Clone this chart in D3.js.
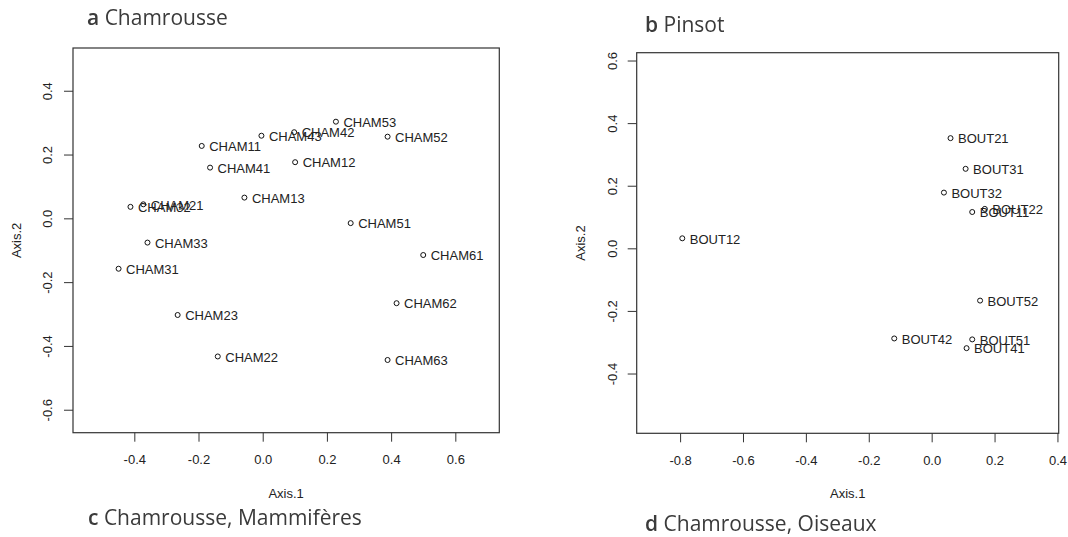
<!DOCTYPE html>
<html>
<head>
<meta charset="utf-8">
<script src="https://cdn.jsdelivr.net/npm/d3@7"></script>
<style>
  html, body { margin: 0; padding: 0; background: #fff; }
  svg { display: block; }
  .tick text { font-family: "Liberation Sans", Arial, sans-serif; font-size: 13px; fill: #222; }
  .tick line { stroke: #333; stroke-width: 1; }
  .lbl { font-family: "Liberation Sans", Arial, sans-serif; font-size: 13px; fill: #222; }
  .title { font-family: "Open Sans", "Noto Sans", sans-serif; font-size: 21px; fill: #3a3a3a; }
</style>
</head>
<body>
<svg id="fig" width="1068" height="537"></svg>
<script>
// Ordination scores, Chamrousse sites
const chamNames = ["CHAM53","CHAM43","CHAM42","CHAM52","CHAM11","CHAM12","CHAM41","CHAM13",
                   "CHAM32","CHAM21","CHAM51","CHAM33","CHAM31","CHAM61","CHAM62","CHAM23",
                   "CHAM22","CHAM63"];
const chamAxis1 = [0.228,-0.004,0.098,0.389,-0.190,0.101,-0.164,-0.057,
                   -0.412,-0.372,0.274,-0.359,-0.449,0.500,0.417,-0.265,
                   -0.140,0.389];
const chamAxis2 = [0.303,0.259,0.270,0.256,0.227,0.176,0.159,0.065,
                   0.036,0.044,-0.015,-0.076,-0.158,-0.115,-0.266,-0.303,
                   -0.433,-0.444];

// Ordination scores, Pinsot sites
const boutNames = ["BOUT21","BOUT31","BOUT32","BOUT11","BOUT22","BOUT12",
                   "BOUT52","BOUT42","BOUT51","BOUT41"];
const boutAxis1 = [0.060,0.108,0.039,0.129,0.169,-0.793,0.154,-0.119,0.129,0.111];
const boutAxis2 = [0.352,0.254,0.178,0.116,0.126,0.032,-0.167,-0.288,-0.291,-0.319];

// Tick values
const chamXTicks = [-0.4,-0.2,0.0,0.2,0.4,0.6];
const chamYTicks = [-0.6,-0.4,-0.2,0.0,0.2,0.4];
const boutXTicks = [-0.8,-0.6,-0.4,-0.2,0.0,0.2,0.4];
const boutYTicks = [-0.4,-0.2,0.0,0.2,0.4,0.6];

// Panel titles
const titles = [
  {letter: "a", text: "Chamrousse", x: 87, y: 25},
  {letter: "b", text: "Pinsot", x: 645, y: 32},
  {letter: "c", text: "Chamrousse, Mammifères", x: 88, y: 525},
  {letter: "d", text: "Chamrousse, Oiseaux", x: 645, y: 531}
];

const svg = d3.select("#fig");
const defs = svg.append("defs");
defs.append("filter").attr("id", "soft")
  .append("feGaussianBlur").attr("stdDeviation", 0.45);

const fmt = d => d.toFixed(1);

function panel(cfg) {
  const x = d3.scaleLinear().domain(cfg.xDomain).range([cfg.left, cfg.right]);
  const y = d3.scaleLinear().domain(cfg.yDomain).range([cfg.bottom, cfg.top]);
  const g = svg.append("g");

  // frame
  g.append("rect")
    .attr("x", cfg.left).attr("y", cfg.top)
    .attr("width", cfg.right - cfg.left).attr("height", cfg.bottom - cfg.top)
    .attr("fill", "none").attr("stroke", "#333").attr("stroke-width", 1.2);

  // x axis
  const ax = g.append("g").attr("transform", `translate(0,${cfg.bottom})`)
    .call(d3.axisBottom(x).tickValues(cfg.xTicks).tickFormat(fmt).tickSize(9).tickPadding(13));
  ax.select(".domain").remove();

  // y axis, labels parallel to the axis
  const ay = g.append("g").attr("transform", `translate(${cfg.left},0)`)
    .call(d3.axisLeft(y).tickValues(cfg.yTicks).tickFormat(fmt).tickSize(9));
  ay.select(".domain").remove();
  ay.selectAll(".tick text")
    .attr("x", null).attr("dy", null)
    .attr("text-anchor", "middle")
    .attr("dominant-baseline", "central")
    .attr("transform", `translate(${cfg.tickLabelX - cfg.left},0) rotate(-90)`);

  // axis titles
  g.append("text").attr("class", "lbl")
    .attr("x", (cfg.left + cfg.right) / 2).attr("y", 493)
    .attr("text-anchor", "middle").attr("dominant-baseline", "central")
    .text("Axis.1");
  g.append("text").attr("class", "lbl")
    .attr("text-anchor", "middle").attr("dominant-baseline", "central")
    .attr("transform", `translate(${cfg.axis2X},${(cfg.top + cfg.bottom) / 2}) rotate(-90)`)
    .text("Axis.2");

  // sites
  const data = cfg.names.map((n, i) => ({name: n, a1: cfg.a1[i], a2: cfg.a2[i]}));
  const pts = g.append("g");
  pts.selectAll("circle").data(data).join("circle")
    .attr("cx", d => x(d.a1)).attr("cy", d => y(d.a2)).attr("r", 2.5)
    .attr("fill", "none").attr("stroke", "#111").attr("stroke-width", 1);
  pts.selectAll("text").data(data).join("text")
    .attr("class", "lbl")
    .attr("x", d => x(d.a1) + 7.5).attr("y", d => y(d.a2))
    .attr("dy", "0.4em")
    .text(d => d.name);
}

panel({
  names: chamNames, a1: chamAxis1, a2: chamAxis2,
  xDomain: [-0.591, 0.737], yDomain: [-0.672, 0.534],
  left: 73, right: 499.3, top: 48, bottom: 432.7,
  xTicks: chamXTicks, yTicks: chamYTicks,
  tickLabelX: 47, axis2X: 16
});

panel({
  names: boutNames, a1: boutAxis1, a2: boutAxis2,
  xDomain: [-0.938, 0.404], yDomain: [-0.591, 0.625],
  left: 636.7, right: 1058.7, top: 52.7, bottom: 433.3,
  xTicks: boutXTicks, yTicks: boutYTicks,
  tickLabelX: 612, axis2X: 580
});

// panel titles
const tg = svg.append("g").attr("filter", "url(#soft)");
titles.forEach(t => {
  const el = tg.append("text").attr("class", "title").attr("x", t.x).attr("y", t.y);
  el.append("tspan").attr("font-weight", 600).text(t.letter);
  el.append("tspan").text(" " + t.text);
});
</script>
</body>
</html>
